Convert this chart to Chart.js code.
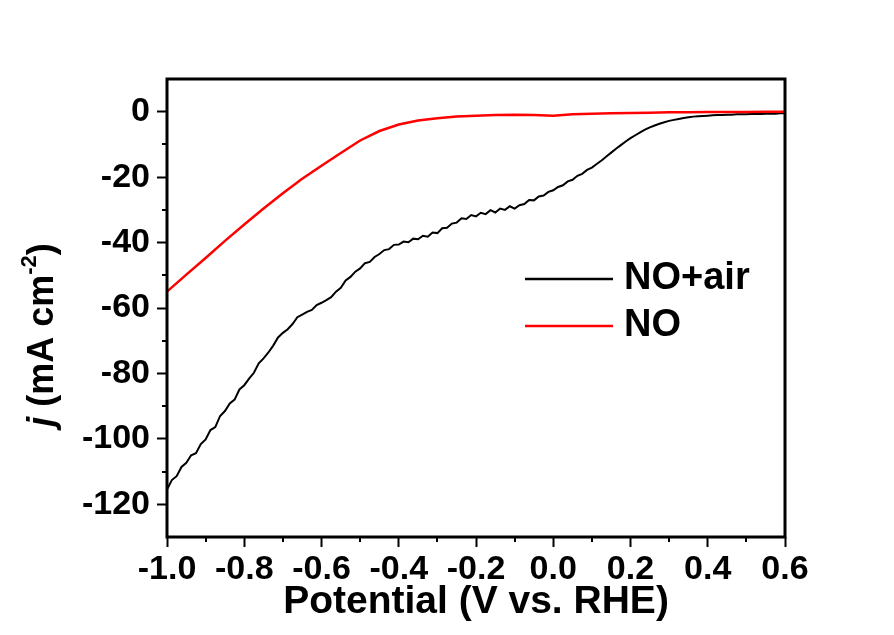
<!DOCTYPE html>
<html>
<head>
<meta charset="utf-8">
<script src="https://cdn.jsdelivr.net/npm/chart.js@4.4.0/dist/chart.umd.min.js"></script>
<style>
  html, body { margin: 0; padding: 0; background: #fff; }
  #wrap { width: 894px; height: 635px; }
</style>
</head>
<body>
<div id="wrap"><canvas id="lsv" width="894" height="635"></canvas></div>
<script>
'use strict';

//掃引の刻み (V vs. RHE)
const sweepStart = -1.0;
const sweepStep = 0.0125;

//NO+air の電流密度 (mA cm-2)、-1.0 V から 0.0125 V ごと
const noAirCurrent = [
  -115.5, -112.6, -111.4, -108.6, -107.3, -105.0, -104.4, -101.6, -100.2, -97.3,
  -96.4, -93.0, -91.5, -89.2, -88.0, -84.9, -83.6, -81.6, -79.8, -76.9,
  -75.4, -73.6, -71.5, -69.0, -67.6, -66.5, -64.9, -62.8, -62.0, -61.2,
  -60.6, -59.1, -58.4, -57.6, -56.7, -55.0, -53.8, -51.6, -50.5, -48.9,
  -47.9, -46.3, -45.9, -44.4, -43.5, -42.3, -42.0, -40.7, -40.6, -39.7,
  -39.9, -38.8, -39.0, -37.9, -38.2, -36.9, -37.1, -35.6, -35.5, -34.2,
  -33.9, -32.6, -32.8, -31.6, -32.0, -30.9, -31.3, -30.1, -30.8, -29.6,
  -30.0, -28.9, -29.6, -28.6, -28.2, -27.0, -27.1, -25.9, -25.6, -24.5,
  -24.0, -23.0, -22.5, -21.3, -20.8, -19.6, -19.0, -17.8, -17.1, -16.0,
  -14.9, -13.7, -12.5, -11.3, -10.2, -9.1, -8.1, -7.2, -6.3, -5.5,
  -4.8, -4.2, -3.7, -3.2, -2.8, -2.5, -2.2, -1.9, -1.7, -1.5,
  -1.4, -1.3, -1.2, -1.1, -1.0, -1.0, -0.9, -0.9, -0.8, -0.8,
  -0.8, -0.7, -0.7, -0.7, -0.6, -0.6, -0.6, -0.5, -0.5
];

//NO の電位と電流密度
const noPotential = [
  -1.00, -0.95, -0.90, -0.85, -0.80, -0.75, -0.70, -0.65, -0.60, -0.55, -0.50,
  -0.45, -0.40, -0.35, -0.30, -0.25, -0.20, -0.15, -0.10, -0.05, 0.00,
  0.05, 0.10, 0.15, 0.20, 0.25, 0.30, 0.35, 0.40, 0.45, 0.50, 0.55, 0.60
];
const noCurrent = [
  -55.0, -49.8, -44.7, -39.5, -34.5, -29.6, -24.9, -20.5, -16.5, -12.6, -8.8,
  -5.9, -3.9, -2.7, -2.0, -1.5, -1.2, -1.0, -0.9, -1.0, -1.2,
  -0.8, -0.6, -0.5, -0.4, -0.3, -0.2, -0.2, -0.1, -0.1, -0.1, 0.0, 0.0
];

//目盛り
const xTicks = [-1.0, -0.8, -0.6, -0.4, -0.2, 0.0, 0.2, 0.4, 0.6];
const xMinorTicks = [-0.9, -0.7, -0.5, -0.3, -0.1, 0.1, 0.3, 0.5];
const yTicks = [-120, -100, -80, -60, -40, -20, 0];
const yMinorTicks = [-110, -90, -70, -50, -30, -10];

const seriesLabels = ['NO+air', 'NO'];
const seriesColors = ['#000000', '#ff0000'];

const FONT = '"Liberation Sans", Arial, sans-serif';

//{x, y} の配列を作る
const noAirPoints = noAirCurrent.map((v, i) => ({ x: sweepStart + i * sweepStep, y: v }));
const noPoints = noPotential.map((p, i) => ({ x: p, y: noCurrent[i] }));

//枠、補助目盛り、縦軸タイトル、凡例を描く
const framePlugin = {
  id: 'frame',
  beforeDraw: (chart) => {
    const ctx = chart.ctx;
    ctx.save();
    ctx.fillStyle = '#ffffff';
    ctx.fillRect(0, 0, chart.width, chart.height);
    ctx.restore();
  },
  afterDraw: (chart) => {
    const ctx = chart.ctx;
    const a = chart.chartArea;
    const xs = chart.scales.x;
    const ys = chart.scales.y;
    ctx.save();

    //補助目盛り
    ctx.strokeStyle = '#000';
    ctx.lineWidth = 2;
    xMinorTicks.forEach((v) => {
      const px = Math.round(xs.getPixelForValue(v));
      ctx.beginPath();
      ctx.moveTo(px, a.bottom);
      ctx.lineTo(px, a.bottom + 5);
      ctx.stroke();
    });
    yMinorTicks.forEach((v) => {
      const py = Math.round(ys.getPixelForValue(v));
      ctx.beginPath();
      ctx.moveTo(a.left, py);
      ctx.lineTo(a.left - 5, py);
      ctx.stroke();
    });

    //枠
    ctx.lineWidth = 3;
    ctx.strokeRect(a.left, a.top, a.right - a.left, a.bottom - a.top);

    //縦軸タイトル j (mA cm-2)
    const parts = [
      { t: 'j', f: 'italic bold 36px ' + FONT, dy: 0 },
      { t: ' (mA cm', f: 'bold 36px ' + FONT, dy: 0 },
      { t: '-2', f: 'bold 22px ' + FONT, dy: -17 },
      { t: ')', f: 'bold 36px ' + FONT, dy: 0 }
    ];
    let total = 0;
    parts.forEach((p) => {
      ctx.font = p.f;
      p.w = ctx.measureText(p.t).width;
      total += p.w;
    });
    ctx.translate(53, 335);
    ctx.rotate(-Math.PI / 2);
    ctx.fillStyle = '#000';
    ctx.textBaseline = 'alphabetic';
    let cx = -total / 2;
    parts.forEach((p) => {
      ctx.font = p.f;
      ctx.fillText(p.t, cx, p.dy);
      cx += p.w;
    });
    ctx.setTransform(1, 0, 0, 1, 0, 0);

    //凡例
    chart.data.datasets.forEach((ds, i) => {
      const ly = 279 + i * 47;
      ctx.strokeStyle = ds.borderColor;
      ctx.lineWidth = 2.5;
      ctx.beginPath();
      ctx.moveTo(525, ly);
      ctx.lineTo(613, ly);
      ctx.stroke();
      ctx.fillStyle = '#000';
      ctx.font = 'bold 38px ' + FONT;
      ctx.textBaseline = 'middle';
      ctx.fillText(ds.label, 624, ly);
    });

    ctx.restore();
  }
};

const chart = new Chart(document.getElementById('lsv'), {
  type: 'line',
  data: {
    datasets: [
      {
        label: seriesLabels[0],
        data: noAirPoints,
        borderColor: seriesColors[0],
        borderWidth: 2,
        order: 1
      },
      {
        label: seriesLabels[1],
        data: noPoints,
        borderColor: seriesColors[1],
        borderWidth: 2.5,
        order: 0
      }
    ]
  },
  options: {
    responsive: false,
    animation: false,
    parsing: false,
    elements: {
      point: { radius: 0 },
      line: { tension: 0 }
    },
    layout: {
      padding: { left: 0, top: 79, right: 109, bottom: 0 }
    },
    plugins: {
      legend: { display: false },
      tooltip: { enabled: false }
    },
    scales: {
      x: {
        type: 'linear',
        min: -1.0,
        max: 0.6,
        afterBuildTicks: (scale) => {
          scale.ticks = xTicks.map((v) => ({ value: v }));
        },
        afterFit: (scale) => {
          scale.height = 98;
        },
        border: { display: false },
        grid: {
          drawOnChartArea: false,
          color: '#000',
          tickLength: 10,
          tickWidth: 2
        },
        ticks: {
          color: '#000',
          padding: 2,
          maxRotation: 0,
          autoSkip: false,
          font: { family: FONT, size: 34, weight: 'bold' },
          callback: (v) => Number(v).toFixed(1)
        },
        title: {
          display: true,
          text: 'Potential (V vs. RHE)',
          color: '#000',
          padding: { top: 0, bottom: 9 },
          font: { family: FONT, size: 39, weight: 'bold' }
        }
      },
      y: {
        type: 'linear',
        min: -130,
        max: 10,
        afterBuildTicks: (scale) => {
          scale.ticks = yTicks.map((v) => ({ value: v }));
        },
        afterFit: (scale) => {
          scale.width = 167;
        },
        border: { display: false },
        grid: {
          drawOnChartArea: false,
          color: '#000',
          tickLength: 10,
          tickWidth: 2
        },
        ticks: {
          color: '#000',
          padding: 7,
          autoSkip: false,
          font: { family: FONT, size: 34, weight: 'bold' },
          callback: (v) => String(v)
        }
      }
    }
  },
  plugins: [framePlugin]
});
</script>
</body>
</html>
